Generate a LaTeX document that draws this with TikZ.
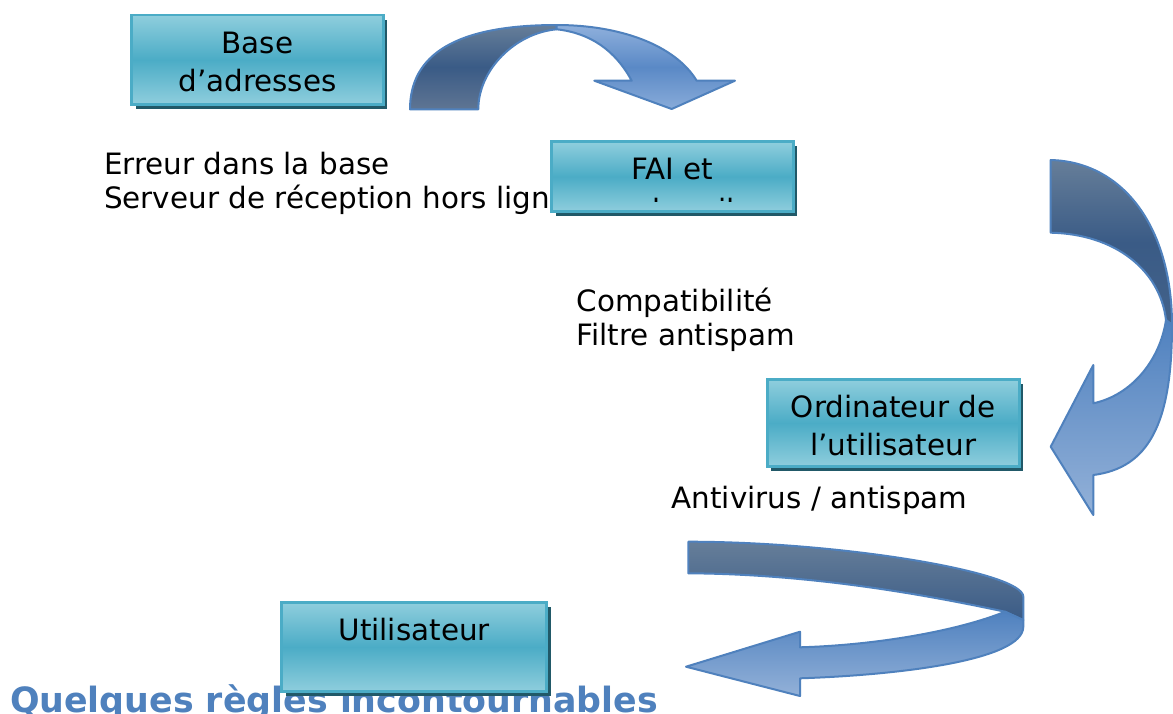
\documentclass[tikz,border=0pt]{standalone}
\usepackage{fontspec}
\setmainfont{DejaVu Sans}
\usetikzlibrary{shadows}

\definecolor{boxedge}{HTML}{4BACC6}
\definecolor{boxlight}{HTML}{8FCEDD}
\definecolor{boxmid}{HTML}{4BACC6}
\definecolor{boxshadow}{HTML}{215968}
\definecolor{arrowedge}{HTML}{4F81BD}
\definecolor{titleblue}{HTML}{4F81BD}
\definecolor{backtop}{HTML}{667E99}
\definecolor{backmid}{HTML}{3A5B86}
\definecolor{backbot}{HTML}{5F7593}
\definecolor{fronttop}{HTML}{4F81BF}
\definecolor{frontbot}{HTML}{93B1D8}
\definecolor{frontlight}{HTML}{8FB0DC}
\definecolor{frontmid}{HTML}{5A89C6}

\tikzset{
  infobox/.style={rectangle, draw=boxedge, line width=2.5pt,
    top color=boxlight, bottom color=boxlight, middle color=boxmid,
    drop shadow={shadow xshift=4pt, shadow yshift=-4.5pt, fill=boxshadow, opacity=1},
    inner sep=0pt},
  lbl/.style={inner sep=0pt, font=\fontsize{29.4pt}{34pt}\selectfont},
  band/.style={draw=arrowedge, line width=2pt, line join=round},
}

\begin{document}
\begin{tikzpicture}[x=1pt, y=-1pt]
  \clip (0,0) rectangle (1173,713);
  \fill[white] (0,0) rectangle (1173,713);

  % heading, partly hidden by the last box
  \node[anchor=base west, inner sep=0pt, text=titleblue,
        font=\fontsize{34.8pt}{40pt}\selectfont\bfseries] (title) at (9.8,712)
        {Quelques règles incontournables};

  % remarks between the steps
  \node[lbl, anchor=base west] (err1) at (103.9,174.5) {Erreur dans la base};
  \node[lbl, anchor=base west] (err2) at (103.9,208.5) {Serveur de réception hors ligne};
  \node[lbl, anchor=base west] (cmp1) at (576.4,311.5) {Compatibilité};
  \node[lbl, anchor=base west] (cmp2) at (576.4,345) {Filtre antispam};
  \node[lbl, anchor=base west] (av1) at (671.5,508.3) {Antivirus / antispam};

  % step boxes
  \node[infobox, minimum width=251.6pt, minimum height=89.3pt] (bA) at (257.5,59.7) {};
  \node[lbl, anchor=base] (bA1) at ([yshift=-39.3pt]bA.north) {Base};
  \node[lbl, anchor=base] (bA2) at ([yshift=-78pt]bA.north) {d’adresses};

  \node[infobox, minimum width=241.6pt, minimum height=70pt] (bB) at (672.5,176.7) {};
  \node[lbl, anchor=base] (bB1) at ([yshift=-39.3pt]bB.north) {FAI et};
  \begin{scope}
    % second line overflows the box: only its tallest strokes show
    \clip (552,142) rectangle (794,201);
    \node[lbl, anchor=base] (bB2) at ([yshift=-80pt]bB.north) {webmail};
  \end{scope}

  \node[infobox, minimum width=252pt, minimum height=87.4pt] (bC) at (893.3,423) {};
  \node[lbl, anchor=base] (bC1) at ([yshift=-39.3pt]bC.north) {Ordinateur de};
  \node[lbl, anchor=base] (bC2) at ([yshift=-77pt]bC.north) {l’utilisateur};

  \node[infobox, minimum width=265pt, minimum height=89.4pt] (bD) at (414.2,647) {};
  \node[lbl, anchor=base] (bD1) at ([yshift=-39.4pt]bD.north) {Utilisateur};

  % curved arrow over the top
  \draw[band, top color=backtop, bottom color=backbot, middle color=backmid]
    (410,109.3) .. controls (410,55) and (455,25) .. (556.7,25)
    -- (556.7,29.3) .. controls (515,33) and (478.3,70) .. (478.3,109.3) -- cycle;
  \draw[band, top color=frontlight, bottom color=frontlight!90!fronttop, middle color=frontmid]
    (556.7,25) .. controls (620,25) and (675,45) .. (696.7,80.7)
    -- (735,80.7) -- (671.7,109) -- (594.3,80.7) -- (631.7,80.7)
    .. controls (615,50) and (590,33) .. (556.7,29.3) -- cycle;

  % curved arrow down the right side
  \draw[band, top color=backtop, bottom color=backmid!80!backtop, middle color=backmid]
    (1050.7,160) .. controls (1125,162) and (1172,230) .. (1172,325)
    -- (1166,320) .. controls (1160,270) and (1115,234) .. (1050.7,232.7) -- cycle;
  \draw[band, top color=fronttop, bottom color=frontbot]
    (1172,325) .. controls (1172,425) and (1148,468) .. (1093.3,475)
    -- (1093.3,515) -- (1050.7,446.7) -- (1093.3,365) -- (1093.3,403.3)
    .. controls (1132,395) and (1160,360) .. (1166,320) -- cycle;

  % curved arrow turning back at the bottom
  \draw[band, top color=backtop, bottom color=backmid]
    (688.3,541.7) .. controls (840,541.7) and (1023.3,572) .. (1023.3,596.7)
    -- (1023.3,620) -- (1005,611.7) .. controls (940,598) and (820,574) .. (688.3,573.3) -- cycle;
  \draw[band, top color=fronttop, bottom color=frontbot]
    (1005,611.7) -- (1023.3,620) -- (1023.3,626.7)
    .. controls (1023.3,660) and (900,675) .. (800,678.3)
    -- (800,696) -- (686,666.7) -- (800,631.7) -- (800,647.3)
    .. controls (880,645) and (960,630) .. (1005,611.7) -- cycle;
\end{tikzpicture}
\end{document}
